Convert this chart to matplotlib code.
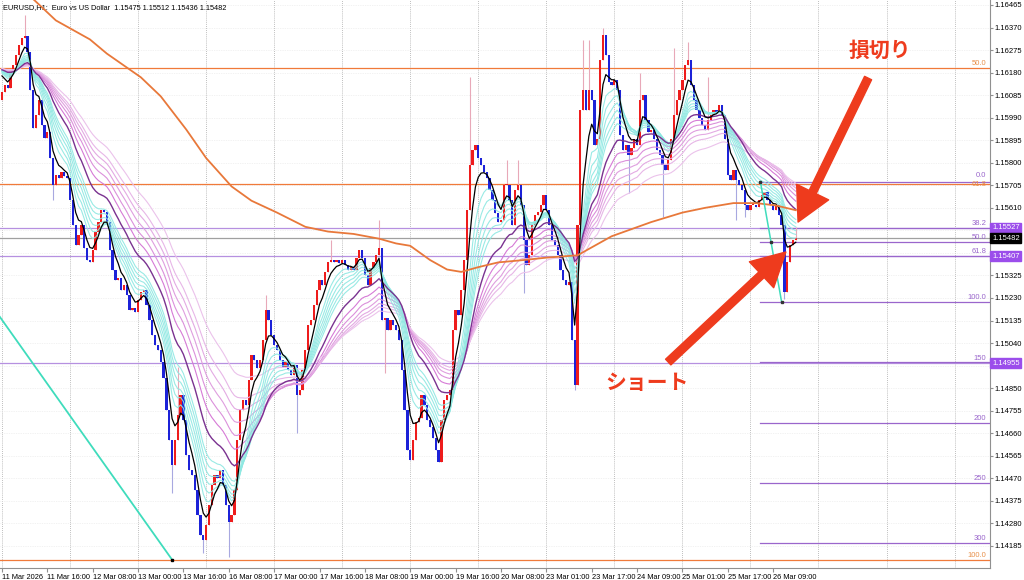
import numpy as np
import matplotlib.pyplot as plt
from matplotlib.transforms import blended_transform_factory

# ---- data (EURUSD H1) ----
closes = [
    1.16098, 1.16128, 1.16115, 1.16183, 1.16212, 1.16254, 1.16296, 1.16326, 1.16334, 1.16267,
    1.16107, 1.15946, 1.16001, 1.16064, 1.15959, 1.15904, 1.15930, 1.15820, 1.15706, 1.15748,
    1.15736, 1.15761, 1.15744, 1.15736, 1.15643, 1.15538, 1.15453, 1.15495, 1.15538, 1.15441,
    1.15390, 1.15382, 1.15432, 1.15508, 1.15550, 1.15601, 1.15592, 1.15550, 1.15432, 1.15348,
    1.15306, 1.15314, 1.15264, 1.15285, 1.15243, 1.15179, 1.15188, 1.15171, 1.15222, 1.15255,
    1.15264, 1.15200, 1.15137, 1.15074, 1.15032, 1.15011, 1.14960, 1.14893, 1.14758, 1.14631,
    1.14526, 1.14631, 1.14737, 1.14821, 1.14716, 1.14568, 1.14505, 1.14484, 1.14421, 1.14315,
    1.14231, 1.14210, 1.14273, 1.14357, 1.14442, 1.14484, 1.14471, 1.14505, 1.14442, 1.14357,
    1.14286, 1.14315, 1.14421, 1.14631, 1.14758, 1.14800, 1.14779, 1.14884, 1.14990, 1.14969,
    1.14935, 1.14969, 1.15053, 1.15179, 1.15137, 1.15074, 1.15032, 1.15011, 1.14969, 1.14939,
    1.14960, 1.14926, 1.14905, 1.14948, 1.14821, 1.14842, 1.14926, 1.15011, 1.15116, 1.15137,
    1.15200, 1.15264, 1.15306, 1.15285, 1.15339, 1.15382, 1.15390, 1.15382, 1.15390, 1.15377,
    1.15390, 1.15369, 1.15348, 1.15361, 1.15348, 1.15398, 1.15432, 1.15398, 1.15327, 1.15285,
    1.15356, 1.15382, 1.15411, 1.15441, 1.15137, 1.15146, 1.15095, 1.15137, 1.15116, 1.15095,
    1.15053, 1.14926, 1.14758, 1.14589, 1.14547, 1.14631, 1.14707, 1.14724, 1.14821, 1.14779,
    1.14716, 1.14686, 1.14640, 1.14589, 1.14539, 1.14716, 1.14800, 1.14821, 1.14842, 1.15095,
    1.15179, 1.15158, 1.15264, 1.15390, 1.15601, 1.15791, 1.15854, 1.15875, 1.15820, 1.15791,
    1.15761, 1.15736, 1.15685, 1.15643, 1.15588, 1.15550, 1.15559, 1.15706, 1.15706, 1.15643,
    1.15538, 1.15685, 1.15706, 1.15622, 1.15474, 1.15369, 1.15411, 1.15538, 1.15580, 1.15592,
    1.15622, 1.15664, 1.15601, 1.15538, 1.15474, 1.15453, 1.15411, 1.15348, 1.15306, 1.15285,
    1.15297, 1.15053, 1.14863, 1.15538, 1.16022, 1.16107, 1.16022, 1.16107, 1.16064, 1.15875,
    1.15900, 1.16233, 1.16339, 1.16254, 1.16140, 1.16128, 1.16149, 1.16107, 1.15917, 1.15854,
    1.15875, 1.15833, 1.15862, 1.15900, 1.15875, 1.16064, 1.16086, 1.15980, 1.15930, 1.15938,
    1.15900, 1.15854, 1.15833, 1.15791, 1.15769, 1.15812, 1.15900, 1.16001, 1.16064, 1.16107,
    1.16149, 1.16212, 1.16233, 1.16128, 1.16064, 1.16022, 1.15989, 1.15959, 1.15938, 1.15980,
    1.16001, 1.16022, 1.16014, 1.16043, 1.16001, 1.15900, 1.15748, 1.15727, 1.15769, 1.15727,
    1.15706, 1.15685, 1.15622, 1.15601, 1.15622, 1.15622, 1.15613, 1.15643, 1.15664, 1.15677,
    1.15643, 1.15622, 1.15601, 1.15622, 1.15580, 1.15538, 1.15255, 1.15382, 1.15453, 1.15474,
    1.15482,
]
first_open = 1.16064

# notable wicks: bar -> (high, low)
wicks = {
    8: (1.16423, None), 18: (None, 1.15643), 60: (None, 1.14408), 62: (1.14939, None),
    71: (None, 1.14155), 80: (None, 1.14138), 93: (1.15243, None), 104: (None, 1.14661),
    116: (1.15474, None), 133: (1.15559, None), 135: (None, 1.14914), 165: (1.16161, None),
    178: (1.15812, None), 182: (1.15812, None), 184: (None, 1.15251), 202: (None, 1.14842),
    205: (1.16317, None), 207: (1.16317, None), 212: (1.16368, None), 221: (None, 1.15672),
    225: (1.16178, None), 233: (None, 1.15571), 237: (1.16284, None), 242: (1.16309, None),
    249: (1.16161, None), 259: (None, 1.15559), 262: (None, 1.15571), 276: (None, 1.15225),
    280: (1.15529, None),
}

# long moving average (orange), read at a few bars
ma_long_bars = [0, 11, 19, 31, 37, 49, 56, 65, 72, 81, 88, 97, 107, 115, 124, 133, 139, 144,
                151, 157, 162, 168, 175, 184, 192, 203, 215, 229, 240, 248, 258, 266, 273, 280]
ma_long_vals = [1.1658, 1.1649, 1.1640, 1.1632, 1.1626, 1.1616, 1.1608, 1.1594, 1.1582, 1.1570,
                1.1564, 1.1559, 1.1553, 1.1551, 1.1550, 1.1548, 1.1546, 1.1545, 1.1539, 1.1535,
                1.1534, 1.1536, 1.1538, 1.1539, 1.1540, 1.1541, 1.1549, 1.1555, 1.1559, 1.1561,
                1.1563, 1.1563, 1.1562, 1.1560]
ema_seed = 1.1620

date_labels = ["11 Mar 2026", "11 Mar 16:00", "12 Mar 08:00", "13 Mar 00:00", "13 Mar 16:00",
               "16 Mar 08:00", "17 Mar 00:00", "17 Mar 16:00", "18 Mar 08:00", "19 Mar 00:00",
               "19 Mar 16:00", "20 Mar 08:00", "23 Mar 01:00", "23 Mar 17:00", "24 Mar 09:00",
               "25 Mar 01:00", "25 Mar 17:00", "26 Mar 09:00"]
price_ticks = [1.16465, 1.16370, 1.16275, 1.16180, 1.16085, 1.15990, 1.15895, 1.15800, 1.15705,
               1.15610, 1.15515, 1.15420, 1.15325, 1.15230, 1.15135, 1.15040, 1.14945, 1.14850,
               1.14755, 1.14660, 1.14565, 1.14470, 1.14375, 1.14280, 1.14185]
hidden_ticks = [1.15515, 1.15420, 1.14945]   # covered by the price boxes

# fibonacci retracements
fib_a_high, fib_a_low = 1.15721, 1.15213
fib_a_bars = (267.5, 275.0)
fib_a_levels = [0, 38.2, 50, 61.8, 100, 150, 200, 250, 300]
fib_a_text = ["0.0", "38.2", "50.0", "61.8", "100.0", "150", "200", "250", "300"]
fib_b_high, fib_b_low = 1.18271, 1.14127
fib_b_bars = (-186, 60)
fib_b_levels = [50, 61.8, 100]
fib_b_text = ["50.0", "61.8", "100.0"]

hlines = [1.15527, 1.15407, 1.14955]
bid = 1.15482

small = 'Liberation Sans'

# ---- figure ----
fig = plt.figure(figsize=(10.24, 5.8), dpi=100)
ax = fig.add_axes([0, 12 / 580, 990 / 1024, 568 / 580])
ax.set_xlim(-0.7, 348.5)
ax.set_ylim(1.14092, 1.16486)

n = len(closes)
idx = np.arange(n)
c = np.array(closes)
o = np.concatenate([[first_open], c[:-1]])
hi = np.maximum(o, c)
lo = np.minimum(o, c)
for k, (h, l) in wicks.items():
    if h is not None:
        hi[k] = h
    if l is not None:
        lo[k] = l
up = c >= o

# grid
for b in range(0, 349, 24):
    ax.axvline(b, color='#a8a8a8', lw=0.6, ls=(0, (1, 1.5)), zorder=0)
for p in price_ticks:
    ax.axhline(p, color='#e6e6e6', lw=0.5, ls=(0, (1, 1.5)), zorder=0)

# horizontal lines
fx = blended_transform_factory(ax.transAxes, ax.transData)
for lvl, txt in zip(fib_b_levels, fib_b_text):
    p = fib_b_high - lvl / 100 * (fib_b_high - fib_b_low)
    ax.axhline(p, color='#f07a3a', lw=0.9, zorder=1)
    if lvl == 61.8:
        ax.text(0.996, p - 0.00001, txt, transform=fx, ha='right', va='center',
                fontsize=5.5, family=small, color='#e8904a')
    else:
        ax.text(0.996, p + 0.00003, txt, transform=fx, ha='right', va='bottom',
                fontsize=5.5, family=small, color='#e8904a')
ax.plot(fib_b_bars, [fib_b_high, fib_b_low], color='#3fdcbc', lw=1.3, zorder=2)
ax.plot([fib_b_bars[1]], [fib_b_low], 's', color='black', ms=1.5, zorder=3)

for p in hlines:
    ax.axhline(p, color='#b690e0', lw=0.9, zorder=1)
ax.axhline(bid, color='#a0a0a0', lw=0.9, zorder=1)

for lvl, txt in zip(fib_a_levels, fib_a_text):
    p = fib_a_high - lvl / 100 * (fib_a_high - fib_a_low)
    ax.plot([fib_a_bars[0], 400], [p, p], color='#9a66cc', lw=0.9, zorder=1)
    dy = 0.00009 if lvl == 0 else 0.00003
    ax.text(0.996, p + dy, txt, transform=fx, ha='right', va='bottom',
            fontsize=5.5, family=small, color='#9a66cc')
ax.plot(fib_a_bars, [fib_a_high, fib_a_low], color='#3fdcbc', lw=1.1, zorder=6)
ax.plot([fib_a_bars[0], np.mean(fib_a_bars), fib_a_bars[1]],
        [fib_a_high, (fib_a_high + fib_a_low) / 2, fib_a_low], 's', color='#333333', ms=1.5, zorder=6)

# candles
ax.vlines(idx[up], lo[up], hi[up], color='#e8a8b8', lw=0.8, zorder=2)
ax.vlines(idx[~up], lo[~up], hi[~up], color='#a8a8e0', lw=0.8, zorder=2)
body = np.where(np.abs(c - o) < 0.00003, 0.00003, c - o)
ax.bar(idx[up], body[up], bottom=o[up], width=0.8, color='#ee1c1c', zorder=3)
ax.bar(idx[~up], body[~up], bottom=o[~up], width=0.8, color='#1c22d8', zorder=3)


def ema(x, period, seed):
    a = 2 / (period + 1)
    out = []
    v = seed
    for val in x:
        v = v + a * (val - v)
        out.append(v)
    return np.array(out)


slow = [30, 35, 40, 45, 50, 60]
slow_cols = ['#d67ad6', '#db90db', '#df9edf', '#e3aae3', '#e7b6e7', '#ebc2eb']
for per, col in zip(slow, slow_cols):
    ax.plot(idx, ema(c, per, ema_seed), color=col, lw=0.8, zorder=4)
fast = [8, 10, 12, 14, 16, 18]
for per in fast:
    ax.plot(idx, ema(c, per, ema_seed), color='#8ee8e2', lw=0.8, alpha=0.9, zorder=4)
ax.plot(idx, ema(c, 24, ema_seed), color='#7a3290', lw=1.0, zorder=5)
ax.plot(idx, ema(c, 5, ema_seed), color='black', lw=0.9, zorder=5)
ax.plot(ma_long_bars, ma_long_vals, color='#e8783a', lw=1.3, zorder=5)

# axes styling
for s in ['top', 'left']:
    ax.spines[s].set_visible(False)
ax.spines['right'].set_color('#909090')
ax.spines['bottom'].set_color('#909090')
ax.yaxis.tick_right()
ax.set_yticks(price_ticks)
ax.set_yticklabels(["" if p in hidden_ticks else f"{p:.5f}" for p in price_ticks], family=small)
ax.tick_params(axis='y', labelsize=5.5, length=2, pad=1, colors='#909090', labelcolor='black')
ax.set_xticks(np.arange(len(date_labels)) * 16)
ax.set_xticklabels(date_labels, ha='left', family=small)
ax.tick_params(axis='x', labelsize=5.3, length=3, pad=1, colors='#909090', labelcolor='black')

# price boxes on right axis
for p, col in zip([1.15527, bid, 1.15407, 1.14955], ['#9b4deb', 'black', '#9b4deb', '#9b4deb']):
    ax.text(1.002, p, f"{p:.5f}", transform=fx, ha='left', va='center', fontsize=5.5,
            family=small, color='white', zorder=10, clip_on=False,
            bbox=dict(boxstyle='square,pad=0.2', fc=col, ec=col))

ax.text(0.003, 0.993, "EURUSD,H1:  Euro vs US Dollar  1.15475 1.15512 1.15436 1.15482",
        transform=ax.transAxes, ha='left', va='top', fontsize=5.3, family=small, color='black')

# annotations
red = '#ee3b1d'
jp = ['Noto Sans CJK JP', 'DejaVu Sans']
ax.annotate('', xy=(280.8, 1.15550), xytext=(305.5, 1.16157),
            arrowprops=dict(arrowstyle='simple,head_length=1.5,head_width=1.6,tail_width=0.35',
                            color=red, mutation_scale=16, shrinkA=0, shrinkB=0), zorder=8)
ax.text(309.7, 1.16275, '損切り', family=jp, fontsize=15, fontweight='bold', color=red,
        ha='center', va='center', zorder=8)
ax.annotate('', xy=(276.5, 1.15424), xytext=(235, 1.14960),
            arrowprops=dict(arrowstyle='simple,head_length=1.5,head_width=1.6,tail_width=0.35',
                            color=red, mutation_scale=16, shrinkA=0, shrinkB=0), zorder=8)
ax.text(227.5, 1.14872, 'ショート', family=jp, fontsize=15, fontweight='bold', color=red,
        ha='center', va='center', zorder=8)

fig.savefig('out.png', dpi=100)
